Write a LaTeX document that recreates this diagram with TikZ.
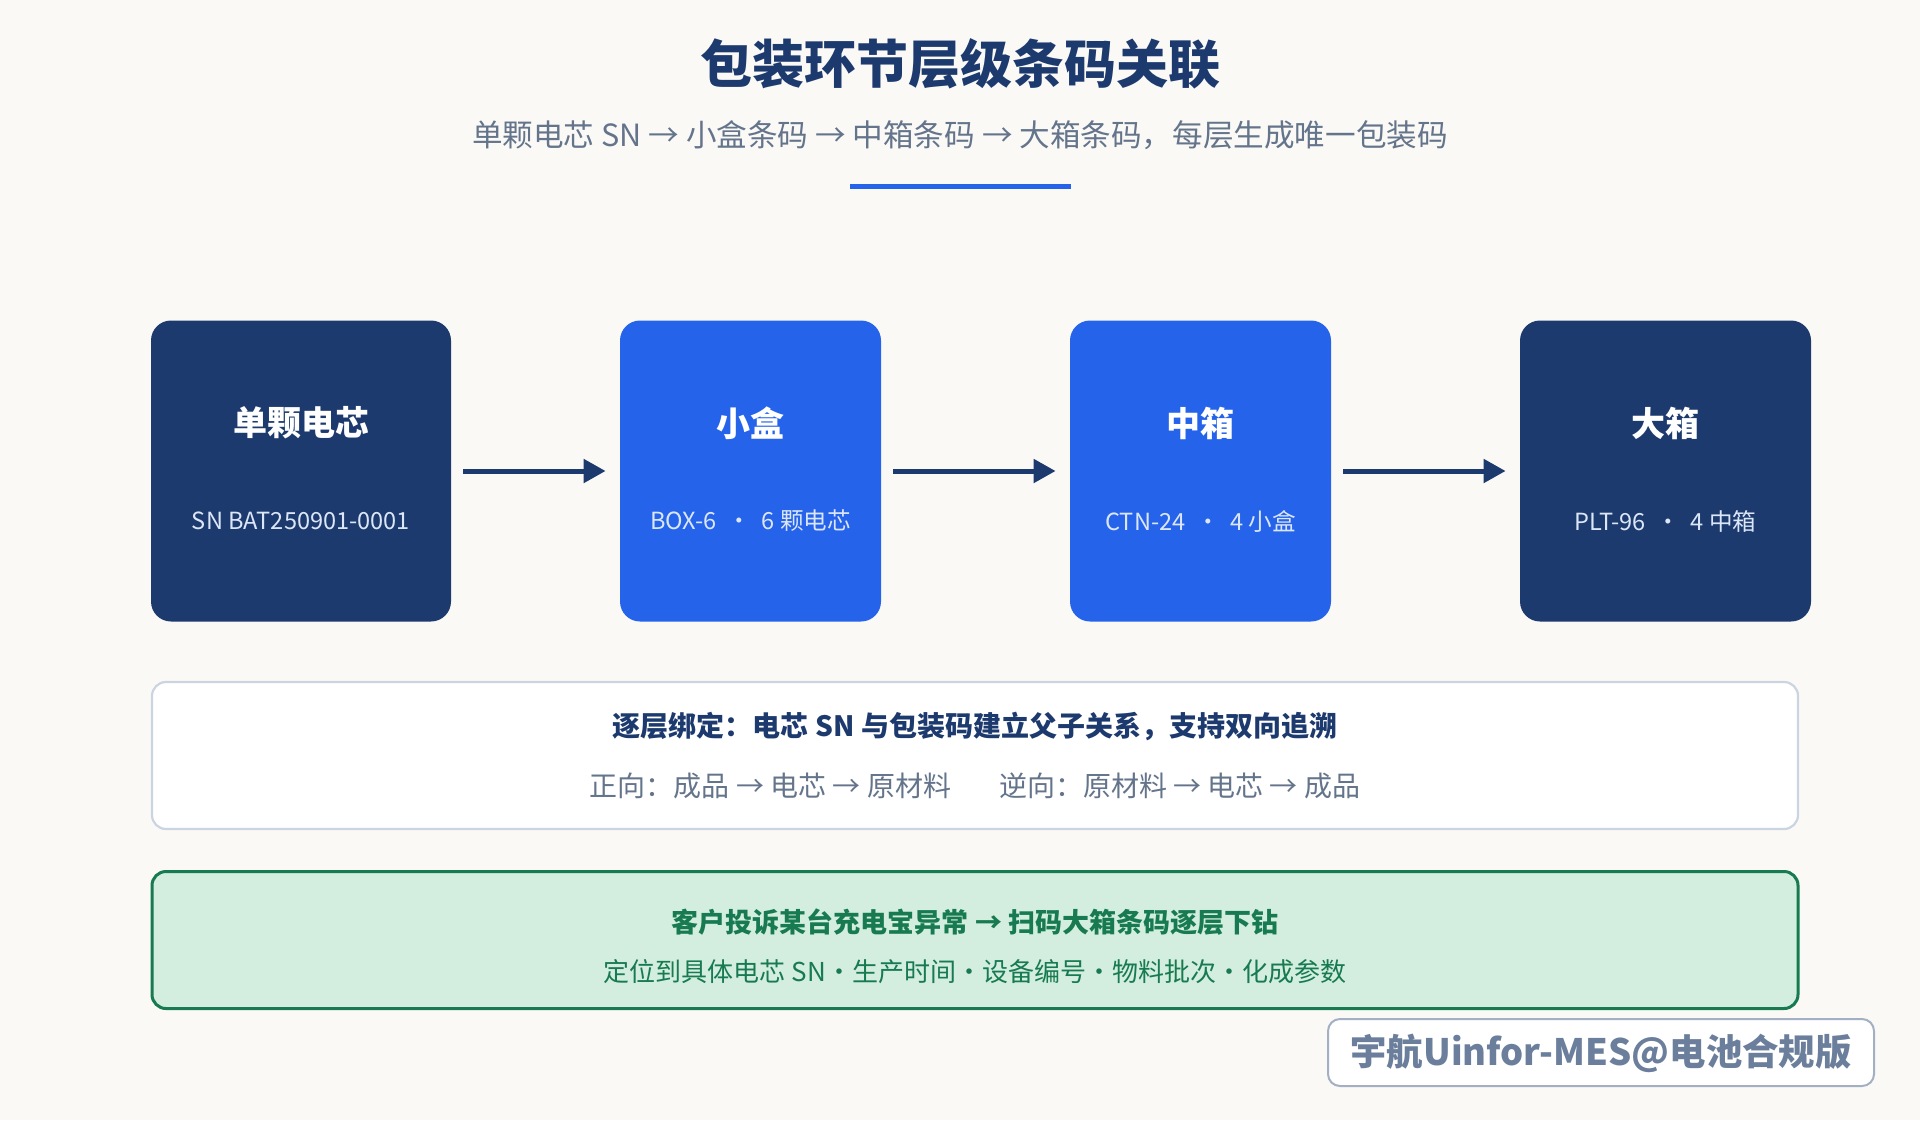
\documentclass[tikz,border=0pt]{standalone}
\usepackage{fontspec}
\setmainfont{Noto Sans CJK SC}
\usetikzlibrary{arrows.meta}
\definecolor{bgc}{HTML}{FAF9F6}
\definecolor{navy}{HTML}{1D3A6E}
\definecolor{bluec}{HTML}{2563EB}
\definecolor{slate}{HTML}{64748B}
\definecolor{lightt}{HTML}{DBE6F7}
\definecolor{pborder}{HTML}{CBD5E1}
\definecolor{gfill}{HTML}{D3EEDF}
\definecolor{gdark}{HTML}{177A50}
\definecolor{wmborder}{HTML}{A3AFC2}
\definecolor{wmtext}{HTML}{6B7F9C}
\tikzset{
  stagebox/.style={rounded corners=10pt, inner sep=0pt, minimum height=150.5pt},
  navybox/.style={stagebox, fill=navy},
  bluebox/.style={stagebox, fill=bluec},
  stagetitle/.style={text=white, font=\fontsize{17}{20}\selectfont\bfseries, inner sep=0pt},
  stagesub/.style={text=lightt, font=\fontsize{11.8}{14}\selectfont, inner sep=0pt},
  flowarrow/.style={draw=navy, line width=2.5pt, -{Triangle[length=11pt,width=11.5pt]}, shorten <=6pt, shorten >=7pt},
  txt/.style={inner sep=0pt}
}
\begin{document}
\begin{tikzpicture}[x=0.5pt,y=-0.5pt]
\fill[bgc] (0,0) rectangle (1920,1120);
\useasboundingbox (0,0) rectangle (1920,1120);

% title
\node[txt, text=navy, font=\fontsize{26}{30}\selectfont\bfseries] (title) at (960,64) {包装环节层级条码关联};
\node[txt, text=slate, font=\fontsize{15.3}{18}\selectfont] (subtitle) at (960,135) {单颗电芯 SN → 小盒条码 → 中箱条码 → 大箱条码，每层生成唯一包装码};
\node[fill=bluec, inner sep=0pt, minimum width=110.5pt, minimum height=2.5pt] (bar) at (960.5,186) {};

% stage boxes
\node[navybox, minimum width=150pt] (b1) at (301,471) {};
\node[bluebox, minimum width=130.5pt] (b2) at (750.5,471) {};
\node[bluebox, minimum width=130.5pt] (b3) at (1200.5,471) {};
\node[navybox, minimum width=145.5pt] (b4) at (1665.5,471) {};

\node[stagetitle] (b1t) at (301,423) {单颗电芯};
\node[stagesub] (b1s) at (301,521) {SN BAT250901-0001};
\node[stagetitle] (b2t) at (750.5,423) {小盒};
\node[stagesub] (b2s) at (750.5,521) {BOX-6 \ · \ 6 颗电芯};
\node[stagetitle] (b3t) at (1200.5,423) {中箱};
\node[stagesub] (b3s) at (1200.5,521) {CTN-24 \ · \ 4 小盒};
\node[stagetitle] (b4t) at (1665.5,423) {大箱};
\node[stagesub] (b4s) at (1665.5,521) {PLT-96 \ · \ 4 中箱};

\draw[flowarrow] (b1) -- (b2);
\draw[flowarrow] (b2) -- (b3);
\draw[flowarrow] (b3) -- (b4);

% panel 1
\node[draw=pborder, line width=1.1pt, fill=white, rounded corners=7pt, inner sep=0pt, minimum width=823pt, minimum height=73.5pt] (p1) at (975,755.5) {};
\node[txt, text=navy, font=\fontsize{14}{17}\selectfont\bfseries] (p1a) at (975,726) {逐层绑定：电芯 SN 与包装码建立父子关系，支持双向追溯};
\node[txt, text=slate, font=\fontsize{14}{17}\selectfont] (p1b) at (975,786) {正向：成品 → 电芯 → 原材料\hspace{24pt}逆向：原材料 → 电芯 → 成品};

% panel 2
\node[draw=gdark, line width=1.5pt, fill=gfill, rounded corners=7pt, inner sep=0pt, minimum width=823pt, minimum height=68.5pt] (p2) at (975,940) {};
\node[txt, text=gdark, font=\fontsize{13.5}{17}\selectfont\bfseries] (p2a) at (975,922) {客户投诉某台充电宝异常 → 扫码大箱条码逐层下钻};
\node[txt, text=gdark, font=\fontsize{13}{17}\selectfont] (p2b) at (975,972) {定位到具体电芯 SN·生产时间·设备编号·物料批次·化成参数};

% watermark
\node[draw=wmborder, line width=1pt, fill=white, rounded corners=6pt, inner sep=0pt, minimum width=273pt, minimum height=33.5pt] (wm) at (1601,1052.5) {};
\node[txt, text=wmtext, font=\fontsize{18.2}{21}\selectfont\bfseries] (wmt) at (1601,1053) {宇航Uinfor-MES@电池合规版};
\end{tikzpicture}
\end{document}
